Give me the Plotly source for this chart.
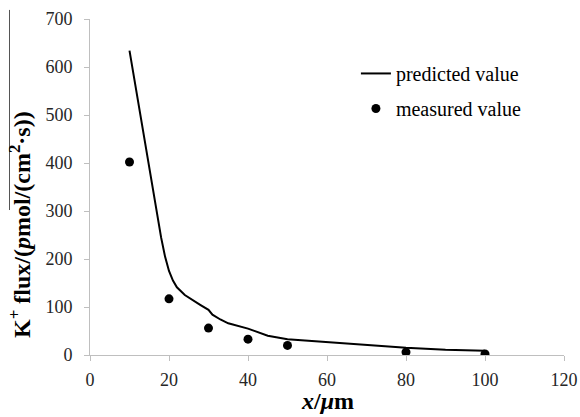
import plotly.graph_objects as go

# Predicted curve
pred_x = [10, 12, 14, 16, 17, 18, 19, 20, 21, 22, 24, 26, 28, 30, 31, 33, 35, 40, 45, 50, 60, 70, 80, 90, 100]
pred_y = [634, 536, 438, 340, 291, 245, 205, 175, 155, 141, 125, 114, 104, 94, 84, 74, 66, 55, 40, 33, 27, 21, 15, 11, 9]

# Measured points
meas_x = [10, 20, 30, 40, 50, 80, 100]
meas_y = [402, 117, 56, 33, 20, 6, 2]

x_ticks = [0, 20, 40, 60, 80, 100, 120]
y_ticks = [0, 100, 200, 300, 400, 500, 600, 700]

FONT = "Liberation Serif"

fig = go.Figure()
fig.add_trace(go.Scatter(x=pred_x, y=pred_y, mode="lines", name="predicted value",
                         line=dict(color="black", width=2), legendgroup="a"))
fig.add_trace(go.Scatter(x=meas_x, y=meas_y, mode="markers", name="measured value",
                         marker=dict(color="black", size=9), legendgroup="b"))

axis_common = dict(showgrid=False, zeroline=False, showline=True, linecolor="#bfbfbf", linewidth=1,
                   ticks="outside", ticklen=5, tickcolor="#bfbfbf", automargin=False,
                   tickfont=dict(family=FONT, size=18, color="#262626"))

fig.update_xaxes(range=[0, 120], tickvals=x_ticks, ticklabelstandoff=3, **axis_common)
fig.update_yaxes(range=[0, 700], tickvals=y_ticks, ticklabelstandoff=8, **axis_common)

fig.update_layout(
    width=580, height=417,
    margin=dict(l=90, r=16, t=19, b=62),
    plot_bgcolor="white", paper_bgcolor="white",
    font=dict(family=FONT, color="black"),
    legend=dict(x=0.561, y=0.896, xanchor="left", yanchor="top",
                font=dict(family=FONT, size=20, color="black"),
                bgcolor="rgba(0,0,0,0)", tracegroupgap=6, traceorder="grouped",
                itemwidth=30),
    showlegend=True,
    annotations=[
        dict(text="<b><i>x</i>/<i>μ</i>m</b>", xref="paper", yref="paper", x=0.5, y=0,
             yshift=-46, xanchor="center", yanchor="middle", showarrow=False,
             font=dict(family=FONT, size=24, color="black")),
        dict(text="<b>K<sup>+</sup> flux/(<i>p</i>mol/(cm<sup>2</sup>·s))</b>", xref="paper", yref="paper",
             x=-0.1477, y=0.39, xanchor="center", yanchor="middle", textangle=-90, showarrow=False,
             font=dict(family=FONT, size=24, color="black")),
    ],
    shapes=[
        dict(type="line", xref="paper", yref="paper", x0=-0.1698, x1=-0.1698, y0=0.4315, y1=1.027,
             line=dict(color="#555555", width=1)),
    ],
)

fig.write_html("out.html", config={"displayModeBar": False},
               post_script="document.body.style.margin='0';")
